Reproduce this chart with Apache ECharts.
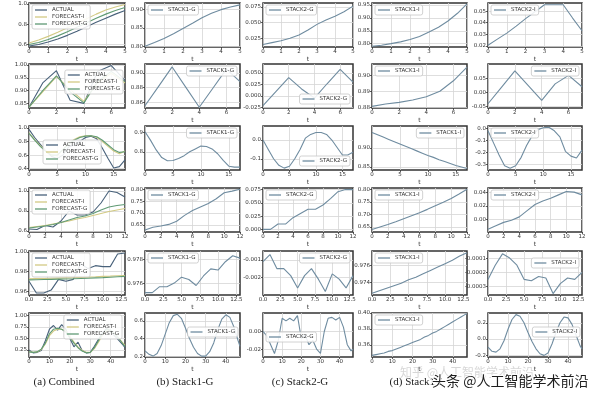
<!DOCTYPE html>
<html><head><meta charset="utf-8">
<script src="https://cdn.jsdelivr.net/npm/echarts@6/dist/echarts.min.js"></script>
<style>html,body{margin:0;padding:0;background:#fff}#c{width:600px;height:406px}</style>
</head><body><div id="c"></div>
<script>
// ---------- Row 1 ----------
const r1_t = [0,0.5,1,1.5,2,2.5,3,3.5,4,4.5,5];
const r1_xticks = ['0','1','2','3','4','5'];
const r1_actual    = [0.585,0.600,0.625,0.655,0.690,0.730,0.775,0.820,0.860,0.900,0.935];
const r1_forecastI = [0.615,0.645,0.680,0.720,0.765,0.810,0.855,0.900,0.940,0.970,0.995];
const r1_forecastG = [0.600,0.620,0.650,0.685,0.725,0.770,0.815,0.860,0.900,0.935,0.965];
const r1_stack1G = [0.800,0.810,0.821,0.834,0.848,0.862,0.877,0.889,0.899,0.906,0.912];
const r1_stack2G = [0.015,0.018,0.021,0.025,0.030,0.038,0.047,0.054,0.060,0.067,0.076];
const r1_stack1I = [0.790,0.794,0.800,0.807,0.816,0.828,0.845,0.864,0.888,0.918,0.955];
const r1_stack2I = [0.0205,0.0258,0.031,0.037,0.0435,0.0495,0.0555,0.0555,0.0555,0.044,0.033];
const r1a_yticks = ['0.6','0.8','1.0'];
const r1b_yticks = ['0.80','0.85','0.90'];
const r1c_yticks = ['0.025','0.050','0.075'];
const r1d_yticks = ['0.80','0.85','0.90','0.95'];
const r1e_yticks = ['0.02','0.03','0.04','0.05'];

// ---------- Row 2 ----------
const r2_t = [0,1,2,3,4,5,6,7];
const r2_xticks = ['0','2','4','6'];
const r2_actual    = [0.835,0.930,0.978,0.862,0.850,0.975,0.998,0.940];
const r2_forecastI = [0.835,0.895,0.955,0.905,0.858,0.930,0.968,0.930];
const r2_forecastG = [0.835,0.900,0.958,0.895,0.852,0.935,0.975,0.935];
const r2_stack1G = [0.855,0.8815,0.908,0.8805,0.853,0.879,0.905,0.888];
const r2_stack2G = [-0.022,0.009,0.040,0.015,-0.005,0.027,0.058,0.030];
const r2_stack1I = [0.8805,0.882,0.883,0.8845,0.8865,0.890,0.8965,0.905];
const r2_stack2I = [-0.040,0.018,0.076,0.024,-0.028,0.030,0.060,0.020];
const r2a_yticks = ['0.85','0.90','0.95','1.00'];
const r2b_yticks = ['0.86','0.88','0.90'];
const r2c_yticks = ['-0.025','0.000','0.025','0.050'];
const r2d_yticks = ['0.88','0.89','0.90'];
const r2e_yticks = ['-0.05','0.00','0.05'];

// ---------- Row 3 ----------
const r3_t = [0,1,2,3,4,5,6,7,8,9,10,11,12,13,14,15,16,17];
const r3_xticks = ['0','5','10','15'];
const r3_actual    = [0.98,0.86,0.76,0.66,0.58,0.55,0.60,0.72,0.75,0.80,0.86,0.88,0.84,0.70,0.55,0.41,0.43,0.53];
const r3_forecastI = [0.93,0.83,0.74,0.66,0.60,0.59,0.68,0.77,0.83,0.87,0.885,0.885,0.86,0.80,0.73,0.66,0.62,0.66];
const r3_forecastG = [0.92,0.82,0.73,0.65,0.60,0.60,0.68,0.76,0.82,0.86,0.88,0.885,0.87,0.82,0.75,0.68,0.64,0.65];
const r3_stack1G = [0.905,0.86,0.81,0.77,0.753,0.755,0.765,0.78,0.80,0.815,0.83,0.828,0.815,0.79,0.755,0.725,0.72,0.72];
const r3_stack2G = [0.0,-0.05,-0.10,-0.135,-0.15,-0.14,-0.10,-0.05,0.01,0.03,0.04,0.04,0.03,0.0,-0.04,-0.08,-0.08,-0.065];
const r3_stack1I = [0.940,0.934,0.928,0.922,0.916,0.910,0.904,0.898,0.892,0.886,0.880,0.875,0.869,0.864,0.859,0.854,0.850,0.846];
const r3_stack2I = [-0.02,-0.12,-0.22,-0.31,-0.33,-0.31,-0.24,-0.14,-0.06,-0.01,0.005,0.01,-0.02,-0.07,-0.19,-0.23,-0.245,-0.18];
const r3a_yticks = ['0.4','0.6','0.8','1.0'];
const r3b_yticks = ['0.8','0.9'];
const r3c_yticks = ['-0.1','0.0'];
const r3d_yticks = ['0.85','0.90'];
const r3e_yticks = ['-0.3','-0.2','-0.1','0.0'];

// ---------- Row 4 ----------
const r4_t = [0,1,2,3,4,5,6,7,8,9,10,11,12];
const r4_xticks = ['0','2','4','6','8','10','12'];
const r4_actual    = [0.62,0.615,0.655,0.64,0.70,0.80,0.76,0.76,0.79,0.88,1.0,0.985,0.94];
const r4_forecastI = [0.635,0.645,0.655,0.67,0.685,0.70,0.72,0.735,0.755,0.775,0.795,0.81,0.825];
const r4_forecastG = [0.63,0.64,0.65,0.665,0.685,0.71,0.735,0.75,0.775,0.81,0.84,0.855,0.865];
const r4_stack1G = [0.628,0.64,0.645,0.652,0.665,0.69,0.71,0.725,0.74,0.76,0.785,0.792,0.80];
const r4_stack2G = [0.0,0.0,0.01,0.01,0.022,0.03,0.038,0.038,0.046,0.058,0.071,0.075,0.075];
const r4_stack1I = [0.64,0.65,0.66,0.671,0.683,0.695,0.707,0.72,0.734,0.748,0.763,0.781,0.80];
const r4_stack2I = [-0.014,-0.009,-0.004,-0.001,0.004,0.013,0.022,0.027,0.031,0.036,0.041,0.040,0.036];
const r4a_yticks = ['0.6','0.8','1.0'];
const r4b_yticks = ['0.65','0.70','0.75','0.80'];
const r4c_yticks = ['0.000','0.025','0.050','0.075'];
const r4d_yticks = ['0.65','0.70','0.75','0.80'];
const r4e_yticks = ['0.00','0.02','0.04'];

// ---------- Row 5 ----------
const r5_t = [0,1,2,3,4,5,6,7,8,9,10,11,12,13];
const r5_xticks = ['0.0','2.5','5.0','7.5','10.0','12.5'];
const r5_actual    = [0.970,0.958,0.958,0.961,0.972,0.970,0.972,0.988,0.983,0.986,0.985,0.985,0.998,0.999];
const r5_forecastI = [0.9725,0.9727,0.9729,0.9731,0.9733,0.9735,0.9737,0.9740,0.9743,0.9746,0.9750,0.9753,0.9757,0.9760];
const r5_forecastG = [0.9715,0.9716,0.9718,0.9720,0.9722,0.9724,0.9726,0.9729,0.9732,0.9735,0.9738,0.9742,0.9746,0.9750];
const r5_stack1G = [0.9752,0.9752,0.9757,0.9757,0.9760,0.9765,0.9763,0.9758,0.9766,0.9772,0.9771,0.9778,0.9783,0.9781];
const r5_stack2G = [-0.0011,-0.0007,-0.0015,-0.0015,-0.0019,-0.0026,-0.0019,-0.0015,-0.0021,-0.0028,-0.0018,-0.0021,-0.0026,-0.0019];
const r5_stack1I = [0.9727,0.9730,0.9733,0.9736,0.9739,0.9743,0.9746,0.9750,0.9754,0.9758,0.9762,0.9766,0.9771,0.9775];
const r5_stack2I = [-0.00025,-0.00015,-0.00007,-0.0001,-0.00015,-0.00025,-0.00026,-0.00023,-0.00024,-0.00035,-0.00028,-0.00024,-0.00025,-0.0002];
const r5a_yticks = ['0.96','0.98','1.00'];
const r5b_yticks = ['0.976','0.978'];
const r5c_yticks = ['-0.002','-0.001'];
const r5d_yticks = ['0.974','0.976'];
const r5e_yticks = ['-0.0003','-0.0002','-0.0001'];

// ---------- Row 6 ----------
const r6_t = [0,2,4,6,8,10,12,14,16,18,20,22,24,26,28,30,32,34,36,38,40,42,44,46,47];
const r6_xticks = ['0','10','20','30','40'];
const r6_actual    = [0.25,0.19,0.20,0.24,0.45,0.70,0.78,0.68,0.80,0.70,0.50,0.32,0.42,0.24,0.19,0.20,0.33,0.48,0.62,0.72,0.64,0.55,0.46,0.36,0.30];
const r6_forecastI = [0.22,0.20,0.21,0.26,0.38,0.56,0.66,0.70,0.70,0.66,0.55,0.42,0.32,0.24,0.20,0.20,0.28,0.42,0.57,0.66,0.66,0.60,0.50,0.40,0.35];
const r6_forecastG = [0.21,0.20,0.21,0.27,0.40,0.60,0.70,0.72,0.70,0.64,0.52,0.40,0.30,0.23,0.19,0.20,0.30,0.45,0.60,0.70,0.68,0.60,0.50,0.38,0.33];
const r6_stack1G = [0.26,0.22,0.20,0.23,0.32,0.45,0.58,0.66,0.675,0.63,0.52,0.40,0.30,0.23,0.20,0.20,0.25,0.35,0.50,0.62,0.67,0.64,0.53,0.38,0.31];
const r6_stack2G = [0.0,-0.005,-0.015,-0.025,-0.01,0.015,0.012,0.015,0.012,0.018,-0.008,-0.004,-0.015,-0.01,-0.02,-0.025,0.0,0.015,0.016,0.013,0.016,0.005,-0.015,-0.022,-0.02];
const r6_stack1I = [0.347,0.348,0.349,0.350,0.352,0.353,0.355,0.357,0.359,0.361,0.363,0.365,0.367,0.370,0.372,0.375,0.377,0.380,0.383,0.386,0.389,0.392,0.395,0.398,0.399];
const r6_stack2I = [-0.10,-0.15,-0.16,-0.12,-0.02,0.12,0.24,0.30,0.28,0.20,0.08,-0.03,-0.12,-0.18,-0.20,-0.17,-0.06,0.08,0.20,0.27,0.26,0.18,0.05,-0.08,-0.12];
const r6a_yticks = ['0.25','0.50','0.75','1.00'];
const r6b_yticks = ['0.2','0.4','0.6'];
const r6c_yticks = ['-0.02','0.00'];
const r6d_yticks = ['0.36','0.38','0.40'];
const r6e_yticks = ['-0.2','0.0','0.2'];

const captions = ['(a) Combined','(b) Stack1-G','(c) Stack2-G','(d) Stack1-I'];

// ---------- styling / layout ----------
const C_ACT='#48617a', C_FI='#d2ca84', C_FG='#5f9a74', C_STK='#6f8ca0';
const colL=[29,145,263,372,488], colR=[125,240,353,467,582];
const rowT=[3,64,126,188,251,313], rowH=44;

function combined(t, a, fi, fg){ return [
  {name:'ACTUAL', t, d:a, color:C_ACT},
  {name:'FORECAST-I', t, d:fi, color:C_FI},
  {name:'FORECAST-G', t, d:fg, color:C_FG}]; }
function single(name, t, d){ return [{name, t, d, color:C_STK}]; }

const rowsDef = [
 {t:r1_t, xmax:5, xt:r1_xticks, panels:[
   {s:combined(r1_t,r1_actual,r1_forecastI,r1_forecastG), yt:r1a_yticks, y:[0.575,1.01], lg:'ul'},
   {s:single('STACK1-G',r1_t,r1_stack1G), yt:r1b_yticks, y:[0.798,0.917], lg:'ul'},
   {s:single('STACK2-G',r1_t,r1_stack2G), yt:r1c_yticks, y:[0.011,0.081], lg:'ul'},
   {s:single('STACK1-I',r1_t,r1_stack1I), yt:r1d_yticks, y:[0.787,0.958], lg:'ul'},
   {s:single('STACK2-I',r1_t,r1_stack2I), yt:r1e_yticks, y:[0.019,0.057], lg:'ul'}]},
 {t:r2_t, xmax:7, xt:r2_xticks, panels:[
   {s:combined(r2_t,r2_actual,r2_forecastI,r2_forecastG), yt:r2a_yticks, y:[0.832,1.004], lg:'mr'},
   {s:single('STACK1-G',r2_t,r2_stack1G), yt:r2b_yticks, y:[0.852,0.912], lg:'ur'},
   {s:single('STACK2-G',r2_t,r2_stack2G), yt:r2c_yticks, y:[-0.027,0.07], lg:'lr'},
   {s:single('STACK1-I',r2_t,r2_stack1I), yt:r2d_yticks, y:[0.8795,0.907], lg:'ul'},
   {s:single('STACK2-I',r2_t,r2_stack2I), yt:r2e_yticks, y:[-0.055,0.1], lg:'ur'}]},
 {t:r3_t, xmax:17, xt:r3_xticks, panels:[
   {s:combined(r3_t,r3_actual,r3_forecastI,r3_forecastG), yt:r3a_yticks, y:[0.38,1.03], lg:'lc'},
   {s:single('STACK1-G',r3_t,r3_stack1G), yt:r3b_yticks, y:[0.705,0.935], lg:'ur'},
   {s:single('STACK2-G',r3_t,r3_stack2G), yt:r3c_yticks, y:[-0.16,0.075], lg:'lr'},
   {s:single('STACK1-I',r3_t,r3_stack1I), yt:r3d_yticks, y:[0.842,0.957], lg:'ur'},
   {s:single('STACK2-I',r3_t,r3_stack2I), yt:r3e_yticks, y:[-0.345,0.02], lg:'ul'}]},
 {t:r4_t, xmax:12, xt:r4_xticks, panels:[
   {s:combined(r4_t,r4_actual,r4_forecastI,r4_forecastG), yt:r4a_yticks, y:[0.59,1.03], lg:'ul'},
   {s:single('STACK1-G',r4_t,r4_stack1G), yt:r4b_yticks, y:[0.62,0.805], lg:'ul'},
   {s:single('STACK2-G',r4_t,r4_stack2G), yt:r4c_yticks, y:[-0.005,0.078], lg:'ul'},
   {s:single('STACK1-I',r4_t,r4_stack1I), yt:r4d_yticks, y:[0.63,0.805], lg:'ul'},
   {s:single('STACK2-I',r4_t,r4_stack2I), yt:r4e_yticks, y:[-0.018,0.046], lg:'ul'}]},
 {t:r5_t, xmax:13, xt:r5_xticks, panels:[
   {s:combined(r5_t,r5_actual,r5_forecastI,r5_forecastG), yt:r5a_yticks, y:[0.956,1.001], lg:'ul'},
   {s:single('STACK1-G',r5_t,r5_stack1G), yt:r5b_yticks, y:[0.975,0.9787], lg:'ul'},
   {s:single('STACK2-G',r5_t,r5_stack2G), yt:r5c_yticks, y:[-0.003,-0.0005], lg:'ur'},
   {s:single('STACK1-I',r5_t,r5_stack1I), yt:r5d_yticks, y:[0.9725,0.9777], lg:'ul'},
   {s:single('STACK2-I',r5_t,r5_stack2I), yt:r5e_yticks, y:[-0.00036,-0.00005], lg:'ur2'}]},
 {t:r6_t, xmax:47, xt:r6_xticks, panels:[
   {s:combined(r6_t,r6_actual,r6_forecastI,r6_forecastG), yt:r6a_yticks, y:[0.1,1.05], lg:'ur'},
   {s:single('STACK1-G',r6_t,r6_stack1G), yt:r6b_yticks, y:[0.19,0.69], lg:'mr'},
   {s:single('STACK2-G',r6_t,r6_stack2G), yt:r6c_yticks, y:[-0.029,0.021], lg:'ml'},
   {s:single('STACK1-I',r6_t,r6_stack1I), yt:r6d_yticks, y:[0.345,0.4], lg:'ul'},
   {s:single('STACK2-I',r6_t,r6_stack2I), yt:r6e_yticks, y:[-0.22,0.32], lg:'mr'}]}
];

function fmt(list){ return v => { for (const s of list) if (Math.abs(Number(s)-v) < 1e-12) return s; return ''; }; }

const option = {animation:false, backgroundColor:'#fff', grid:[], xAxis:[], yAxis:[], series:[], legend:[], graphic:[]};
const FONT = 'DejaVu Sans';
let gi = 0;
rowsDef.forEach((row, r) => {
  row.panels.forEach((p, c) => {
    const L = colL[c], R = colR[c], T = rowT[r], B = T + rowH;
    option.grid.push({left:L, top:T, width:R-L, height:rowH, show:true, borderColor:'#333', borderWidth:1.5, backgroundColor:'#fff'});
    const xv = row.xt.map(Number), yv = p.yt.map(Number);
    option.xAxis.push({gridIndex:gi, type:'value', min:0, max:row.xmax, position:'bottom',
      name:'t', nameLocation:'middle', nameGap:9, nameTextStyle:{fontSize:6, color:'#333', fontFamily:FONT},
      axisLine:{show:false, onZero:false}, axisTick:{show:true, length:2, customValues:xv, lineStyle:{color:'#333', width:0.8}},
      axisLabel:{customValues:xv, fontSize:5.5, margin:2, color:'#333', fontFamily:FONT, formatter:fmt(row.xt), hideOverlap:false},
      splitLine:{show:true, lineStyle:{color:'#d6d6d6', width:0.8}}});
    option.yAxis.push({gridIndex:gi, type:'value', min:p.y[0], max:p.y[1], position:'left',
      axisLine:{show:false, onZero:false}, axisTick:{show:true, length:2, customValues:yv, lineStyle:{color:'#333', width:0.8}},
      axisLabel:{customValues:yv, fontSize:5.5, margin:2, color:'#333', fontFamily:FONT, formatter:fmt(p.yt), hideOverlap:false},
      splitLine:{show:true, lineStyle:{color:'#d6d6d6', width:0.8}}});
    p.s.forEach(s => {
      option.series.push({type:'line', name:s.name, xAxisIndex:gi, yAxisIndex:gi,
        data:s.t.map((t,k)=>[t, s.d[k]]), symbol:'none', showSymbol:false, smooth:false,
        lineStyle:{color:s.color, width:1.1}, itemStyle:{color:s.color}});
    });
    const lg = {orient:'vertical', data:p.s.map(s=>s.name), selectedMode:false,
      icon:'rect', itemWidth:12, itemHeight:1.3, itemGap:1, padding:[2,3,2,3],
      borderColor:'#c6c6c6', borderWidth:0.8, borderRadius:2, backgroundColor:'rgba(255,255,255,0.88)',
      textStyle:{fontSize:5.5, color:'#333', fontFamily:FONT}};
    const h = p.s.length*7 + (p.s.length-1)*1 + 4;
    switch (p.lg) {
      case 'ul': lg.left = L+3; lg.top = T+2; break;
      case 'ur': lg.right = 600-R+3; lg.top = T+2; break;
      case 'ur2': lg.right = 600-R+3; lg.top = T+7; break;
      case 'lr': lg.right = 600-R+3; lg.top = B-h-3; break;
      case 'mr': lg.right = 600-R+2; lg.top = T + Math.round((rowH-h)/2) - 3; break;
      case 'ml': lg.left = L+3; lg.top = T + Math.round((rowH-h)/2) + 2; break;
      case 'lc': lg.left = L+14; lg.top = B-h-3; break;
    }
    option.legend.push(lg);
    gi++;
  });
});

const capX = [64, 185, 300, 416];
captions.forEach((txt, i) => option.graphic.push({type:'text', x:capX[i], y:382, z:100,
  style:{text:txt, font:'11px "Liberation Serif"', fill:'#222', align:'center', verticalAlign:'middle'}}));
option.graphic.push({type:'text', x:400, y:372, z:101,
  style:{text:'知乎 @人工智能学术前沿', font:'12px "Noto Sans CJK SC"', fill:'rgba(140,140,140,0.35)', align:'left', verticalAlign:'middle'}});
option.graphic.push({type:'text', x:432, y:381, z:102,
  style:{text:'头条 @人工智能学术前沿', font:'14px "Noto Sans CJK SC"', fill:'#1e1e1e', stroke:'rgba(255,255,255,0.9)', lineWidth:2, align:'left', verticalAlign:'middle'}});

const chart = echarts.init(document.getElementById('c'), null, {renderer:'canvas'});
chart.setOption(option);
</script></body></html>
